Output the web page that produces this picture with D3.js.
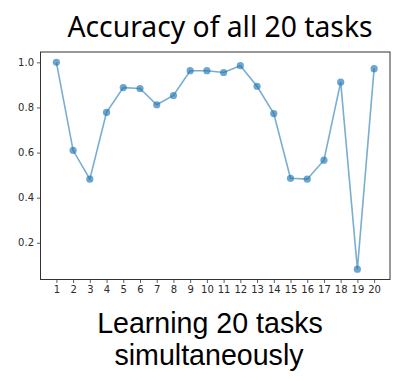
<!DOCTYPE html>
<html>
<head>
<meta charset="utf-8">
<script src="https://cdn.jsdelivr.net/npm/d3@7"></script>
<style>
  body { margin: 0; background: #fff; }
  svg { display: block; }
</style>
</head>
<body>
<div id="chart"></div>
<script>
// task index and accuracy
const tasks = d3.range(1, 21);
const accuracy = [1.0, 0.61, 0.482, 0.778, 0.888, 0.884, 0.812, 0.853, 0.963, 0.963,
                  0.955, 0.985, 0.894, 0.773, 0.486, 0.482, 0.566, 0.912, 0.083, 0.972];
const yTicks = [0.2, 0.4, 0.6, 0.8, 1.0];
const captionLines = ['Learning 20 tasks', 'simultaneously'];

const width = 407, height = 381;
const plot = { left: 40.5, right: 390, top: 52, bottom: 279.5 };

const svg = d3.select('#chart').append('svg')
  .attr('width', width)
  .attr('height', height);

// matplotlib-style 5% margins
const xScale = d3.scaleLinear().domain([0.05, 20.95]).range([plot.left, plot.right]);
const yMin = d3.min(accuracy), yMax = d3.max(accuracy);
const pad = (yMax - yMin) * 0.05;
const yScale = d3.scaleLinear().domain([yMin - pad, yMax + pad]).range([plot.bottom, plot.top]);

const xAxis = svg.append('g')
  .attr('transform', `translate(0, ${plot.bottom})`)
  .call(d3.axisBottom(xScale).tickValues(tasks).tickSize(3.5).tickPadding(3).tickFormat(d3.format('d')));
const yAxis = svg.append('g')
  .attr('transform', `translate(${plot.left}, 0)`)
  .call(d3.axisLeft(yScale).tickValues(yTicks).tickSize(3.5).tickPadding(3).tickFormat(d3.format('.1f')));

[xAxis, yAxis].forEach(ax => {
  ax.select('.domain').remove();
  ax.selectAll('.tick line').attr('stroke', '#333').attr('stroke-width', 0.8);
  ax.selectAll('.tick text')
    .attr('fill', '#2a2a2a')
    .style('font-family', 'DejaVu Sans, sans-serif')
    .style('font-size', '10px');
});

// frame
svg.append('rect')
  .attr('x', plot.left)
  .attr('y', plot.top)
  .attr('width', plot.right - plot.left)
  .attr('height', plot.bottom - plot.top)
  .attr('fill', 'none')
  .attr('stroke', '#333')
  .attr('stroke-width', 1);

const points = tasks.map((t, i) => ({ t: t, v: accuracy[i] }));

svg.append('path')
  .datum(points)
  .attr('fill', 'none')
  .attr('stroke', '#1f77b4')
  .attr('stroke-opacity', 0.6)
  .attr('stroke-width', 1.6)
  .attr('d', d3.line().x(d => xScale(d.t)).y(d => yScale(d.v)));

svg.selectAll('.dot')
  .data(points)
  .enter()
  .append('circle')
  .attr('class', 'dot')
  .attr('cx', d => xScale(d.t))
  .attr('cy', d => yScale(d.v))
  .attr('r', 3.6)
  .attr('fill', '#1f77b4')
  .attr('fill-opacity', 0.65);

svg.append('text')
  .attr('x', 220)
  .attr('y', 37)
  .attr('text-anchor', 'middle')
  .style('font-family', 'Noto Sans, Open Sans, sans-serif')
  .style('font-size', '28.3px')
  .text('Accuracy of all 20 tasks');

// caption font with tighter line metrics so the two lines do not collide
const caption = svg.append('text')
  .attr('x', 210)
  .attr('y', 333)
  .attr('text-anchor', 'middle')
  .style('font-family', 'Liberation Sans, Arial, sans-serif')
  .style('font-size', '28.6px');
caption.selectAll('tspan')
  .data(captionLines)
  .enter()
  .append('tspan')
  .attr('x', (d, i) => i === 0 ? 210 : 209)
  .attr('dy', (d, i) => i === 0 ? 0 : 32)
  .text(d => d);
</script>
</body>
</html>
